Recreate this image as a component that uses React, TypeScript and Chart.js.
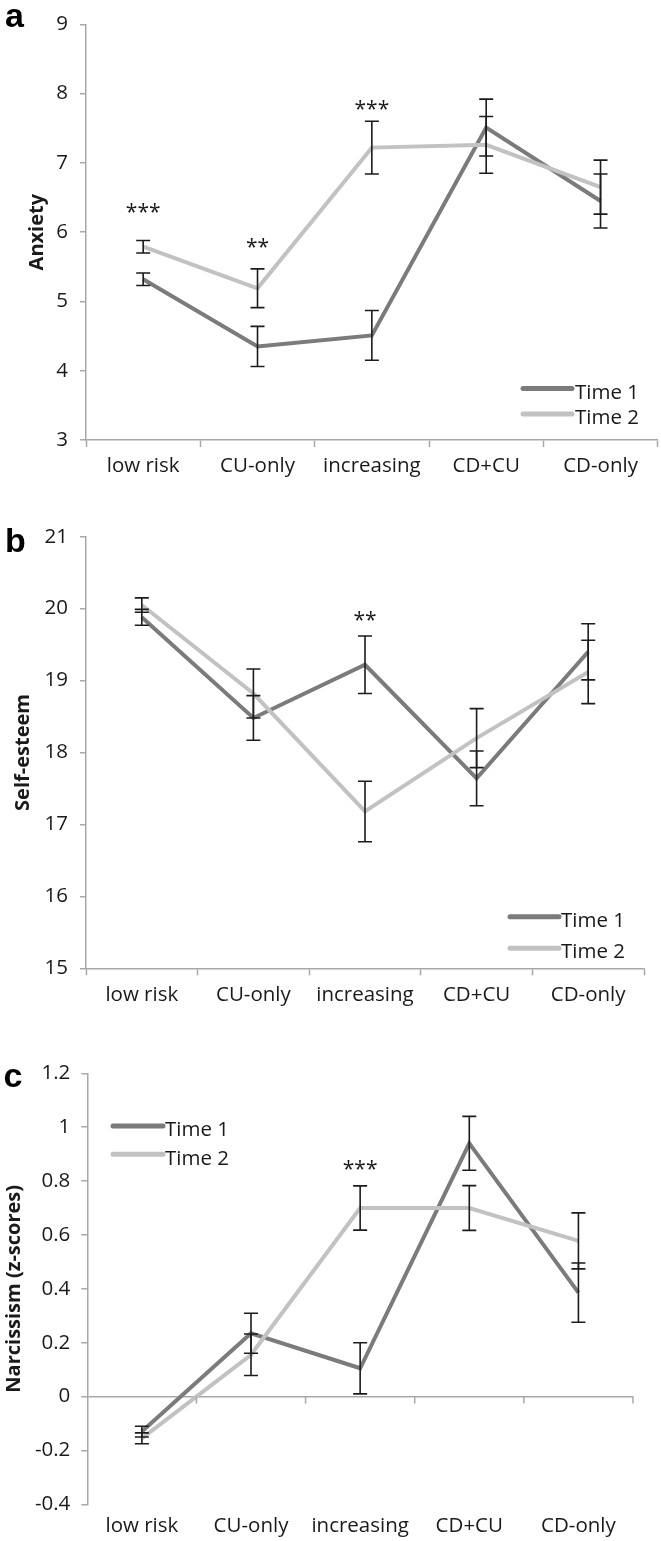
import React, { useEffect, useRef } from "react";
import { Chart, registerables } from "chart.js";

Chart.register(...registerables);

// ---------- data ----------
const categories = ["low risk", "CU-only", "increasing", "CD+CU", "CD-only"];
const seriesNames = ["Time 1", "Time 2"];

const anxietyTime1 = [5.32, 4.35, 4.51, 7.51, 6.45];
const anxietyTime1Err = [0.09, 0.29, 0.36, 0.41, 0.39];
const anxietyTime2 = [5.79, 5.19, 7.22, 7.26, 6.65];
const anxietyTime2Err = [0.09, 0.28, 0.38, 0.41, 0.39];
const anxietySig = ["***", "**", "***", "", ""];
const anxietySigAt = [6.35, 5.85, 7.84, null, null];
const anxietyRange = [3, 9, 1];

const esteemTime1 = [19.88, 18.48, 19.22, 17.64, 19.4];
const esteemTime1Err = [0.11, 0.31, 0.4, 0.38, 0.39];
const esteemTime2 = [20.05, 18.82, 17.18, 18.2, 19.12];
const esteemTime2Err = [0.1, 0.34, 0.42, 0.41, 0.44];
const esteemSig = ["", "", "**", "", ""];
const esteemSigAt = [null, null, 19.9, null, null];
const esteemRange = [15, 21, 1];

const narcTime1 = [-0.13, 0.235, 0.105, 0.94, 0.386];
const narcTime1Err = [0.02, 0.074, 0.095, 0.1, 0.11];
const narcTime2 = [-0.155, 0.155, 0.7, 0.7, 0.578];
const narcTime2Err = [0.02, 0.077, 0.082, 0.083, 0.104];
const narcSig = ["", "", "***", "", ""];
const narcSigAt = [null, null, 0.86, null, null];
const narcRange = [-0.4, 1.2, 0.2];

// ---------- style ----------
const DARK = "#7b7b7b";
const LIGHT = "#c2c2c2";
const AXIS = "#a8a8a8";
const TEXT = "#1a1a1a";
const FONT = "'Open Sans', sans-serif";

type Panel = {
  letter: string;
  letterX: number;
  letterY: number;
  yTitle: string;
  titlePad: number;
  range: number[];
  t1: number[];
  t1e: number[];
  t2: number[];
  t2e: number[];
  sig: string[];
  sigAt: (number | null)[];
  canvasTop: number;
  canvasHeight: number;
  chartTop: number;
  chartBottom: number;
  chartLeft: number;
  chartRight: number;
  zeroAxis: boolean;
  xPad: number;
  yPad: number;
  legend: { x0: number; x1: number; textX: number; lineY: number[]; baseY: number[] };
};

const panels: Panel[] = [
  {
    letter: "a", letterX: 5, letterY: 27,
    yTitle: "Anxiety", titlePad: 25,
    range: anxietyRange,
    t1: anxietyTime1, t1e: anxietyTime1Err, t2: anxietyTime2, t2e: anxietyTime2Err,
    sig: anxietySig, sigAt: anxietySigAt,
    canvasTop: 0, canvasHeight: 480, chartTop: 8, chartBottom: 440,
    chartLeft: 86, chartRight: 657.7, zeroAxis: false, xPad: 7, yPad: 12,
    legend: { x0: 523, x1: 572, textX: 575, lineY: [388.5, 414], baseY: [398.5, 424] },
  },
  {
    letter: "b", letterX: 5, letterY: 61.7,
    yTitle: "Self-esteem", titlePad: 11,
    range: esteemRange,
    t1: esteemTime1, t1e: esteemTime1Err, t2: esteemTime2, t2e: esteemTime2Err,
    sig: esteemSig, sigAt: esteemSigAt,
    canvasTop: 490, canvasHeight: 520, chartTop: 536.7, chartBottom: 968.3,
    chartLeft: 86, chartRight: 644, zeroAxis: false, xPad: 7.4, yPad: 12,
    legend: { x0: 510, x1: 559, textX: 561, lineY: [426.7, 458.3], baseY: [436.7, 468.3] },
  },
  {
    letter: "c", letterX: 3.5, letterY: 46.7,
    yTitle: "Narcissism (z-scores)", titlePad: 2,
    range: narcRange,
    t1: narcTime1, t1e: narcTime1Err, t2: narcTime2, t2e: narcTime2Err,
    sig: narcSig, sigAt: narcSigAt,
    canvasTop: 1040, canvasHeight: 501, chartTop: 1073.3, chartBottom: 1504.3,
    chartLeft: 87.3, chartRight: 633, zeroAxis: true, xPad: 10, yPad: 11,
    legend: { x0: 113, x1: 163, textX: 165, lineY: [86, 114.3], baseY: [95.5, 124.5] },
  },
];

function makeDecor(p: Panel) {
  return {
    id: "decor",
    afterDatasetsDraw(chart: any) {
      const { ctx, scales } = chart;
      const x = scales.x;
      const y = scales.y;
      const series = [
        { v: p.t1, e: p.t1e },
        { v: p.t2, e: p.t2e },
      ];
      ctx.save();
      ctx.strokeStyle = "#1c1c1c";
      ctx.lineWidth = 1.6;
      const cap = 7;
      series.forEach((s) => {
        s.v.forEach((v, i) => {
          const px = x.getPixelForValue(i);
          const top = y.getPixelForValue(v + s.e[i]);
          const bot = y.getPixelForValue(v - s.e[i]);
          ctx.beginPath();
          ctx.moveTo(px, top);
          ctx.lineTo(px, bot);
          ctx.moveTo(px - cap, top);
          ctx.lineTo(px + cap, top);
          ctx.moveTo(px - cap, bot);
          ctx.lineTo(px + cap, bot);
          ctx.stroke();
        });
      });
      ctx.restore();
    },
    afterDraw(chart: any) {
      const { ctx, scales } = chart;
      const x = scales.x;
      const y = scales.y;
      ctx.save();
      // zero-line category ticks
      if (p.zeroAxis) {
        const y0 = y.getPixelForValue(0);
        ctx.strokeStyle = AXIS;
        ctx.lineWidth = 1.5;
        for (let i = 0; i < categories.length; i++) {
          const bx = x.getPixelForValue(i + 0.5);
          ctx.beginPath();
          ctx.moveTo(bx, y0);
          ctx.lineTo(bx, y0 + 7);
          ctx.stroke();
        }
      }
      // significance stars
      ctx.fillStyle = TEXT;
      ctx.font = `21px ${FONT}`;
      ctx.textAlign = "center";
      ctx.textBaseline = "alphabetic";
      p.sig.forEach((s, i) => {
        const at = p.sigAt[i];
        if (!s || at === null) return;
        const m = ctx.measureText(s);
        const off = (m.actualBoundingBoxAscent - m.actualBoundingBoxDescent) / 2;
        ctx.fillText(s, x.getPixelForValue(i), y.getPixelForValue(at) + off);
      });
      // legend
      const L = p.legend;
      const colors = [DARK, LIGHT];
      ctx.lineCap = "round";
      ctx.lineWidth = 5;
      ctx.textAlign = "left";
      ctx.font = `20.5px ${FONT}`;
      seriesNames.forEach((name, k) => {
        ctx.strokeStyle = colors[k];
        ctx.beginPath();
        ctx.moveTo(L.x0, L.lineY[k]);
        ctx.lineTo(L.x1, L.lineY[k]);
        ctx.stroke();
        ctx.fillStyle = TEXT;
        ctx.fillText(name, L.textX, L.baseY[k]);
      });
      // panel letter
      ctx.font = `bold 34px 'Liberation Sans', Arial, sans-serif`;
      ctx.fillStyle = "#000";
      ctx.fillText(p.letter, p.letterX, p.letterY);
      ctx.restore();
    },
  };
}

function PanelChart({ p }: { p: Panel }) {
  const ref = useRef<HTMLCanvasElement>(null);
  useEffect(() => {
    const padTop = p.chartTop - p.canvasTop;
    const xHeight = p.canvasTop + p.canvasHeight - p.chartBottom;
    const padRight = 661 - p.chartRight;
    const [ymin, ymax, ystep] = p.range;
    const chart = new Chart(ref.current as HTMLCanvasElement, {
      type: "line",
      data: {
        labels: categories,
        datasets: [
          {
            label: seriesNames[0],
            data: p.t1,
            borderColor: DARK,
            backgroundColor: DARK,
            borderWidth: 4,
            pointRadius: 0,
            tension: 0,
            fill: false,
            order: 1,
          },
          {
            label: seriesNames[1],
            data: p.t2,
            borderColor: LIGHT,
            backgroundColor: LIGHT,
            borderWidth: 4,
            pointRadius: 0,
            tension: 0,
            fill: false,
            order: 0,
          },
        ],
      },
      options: {
        responsive: false,
        animation: false,
        layout: { padding: { top: padTop, right: padRight, left: 0, bottom: 0 } },
        plugins: {
          legend: { display: false },
          tooltip: { enabled: false },
        },
        scales: {
          x: {
            type: "category",
            offset: true,
            grid: p.zeroAxis
              ? { display: false, drawTicks: false }
              : {
                  display: true,
                  offset: true,
                  drawOnChartArea: false,
                  drawTicks: true,
                  tickLength: 7,
                  tickColor: AXIS,
                  tickWidth: 1.5,
                },
            border: p.zeroAxis ? { display: false } : { display: true, color: AXIS, width: 1.5 },
            ticks: {
              autoSkip: false,
              maxRotation: 0,
              padding: p.xPad,
              color: TEXT,
              font: { family: FONT, size: 20.5 },
            },
            afterFit: (s: any) => {
              s.height = xHeight;
            },
          },
          y: {
            type: "linear",
            min: ymin,
            max: ymax,
            ticks: {
              stepSize: ystep,
              padding: p.yPad,
              color: TEXT,
              font: { family: FONT, size: 20.5 },
              callback: (v: any) => String(Number(Number(v).toFixed(1))),
            },
            grid: {
              display: true,
              drawOnChartArea: p.zeroAxis,
              drawTicks: true,
              tickLength: 6,
              tickColor: AXIS,
              tickWidth: 1.5,
              lineWidth: 1.5,
              color: (c: any) =>
                p.zeroAxis && c.tick && Math.abs(c.tick.value) < 1e-9 ? AXIS : "rgba(0,0,0,0)",
            },
            border: { display: true, color: AXIS, width: 1.5 },
            title: {
              display: true,
              text: p.yTitle,
              color: TEXT,
              font: { family: FONT, size: 20, weight: "bold" },
              padding: { top: p.titlePad, bottom: 0 },
            },
            afterFit: (s: any) => {
              s.width = p.chartLeft;
            },
          },
        },
      },
      plugins: [makeDecor(p)],
    } as any);
    return () => chart.destroy();
  }, []);
  return (
    <canvas
      ref={ref}
      width={661}
      height={p.canvasHeight}
      style={{
        position: "absolute",
        left: 0,
        top: p.canvasTop,
        width: 661,
        height: p.canvasHeight,
        display: "block",
      }}
    />
  );
}

export default function App() {
  return (
    <div>
      {panels.map((p) => (
        <PanelChart key={p.letter} p={p} />
      ))}
    </div>
  );
}
